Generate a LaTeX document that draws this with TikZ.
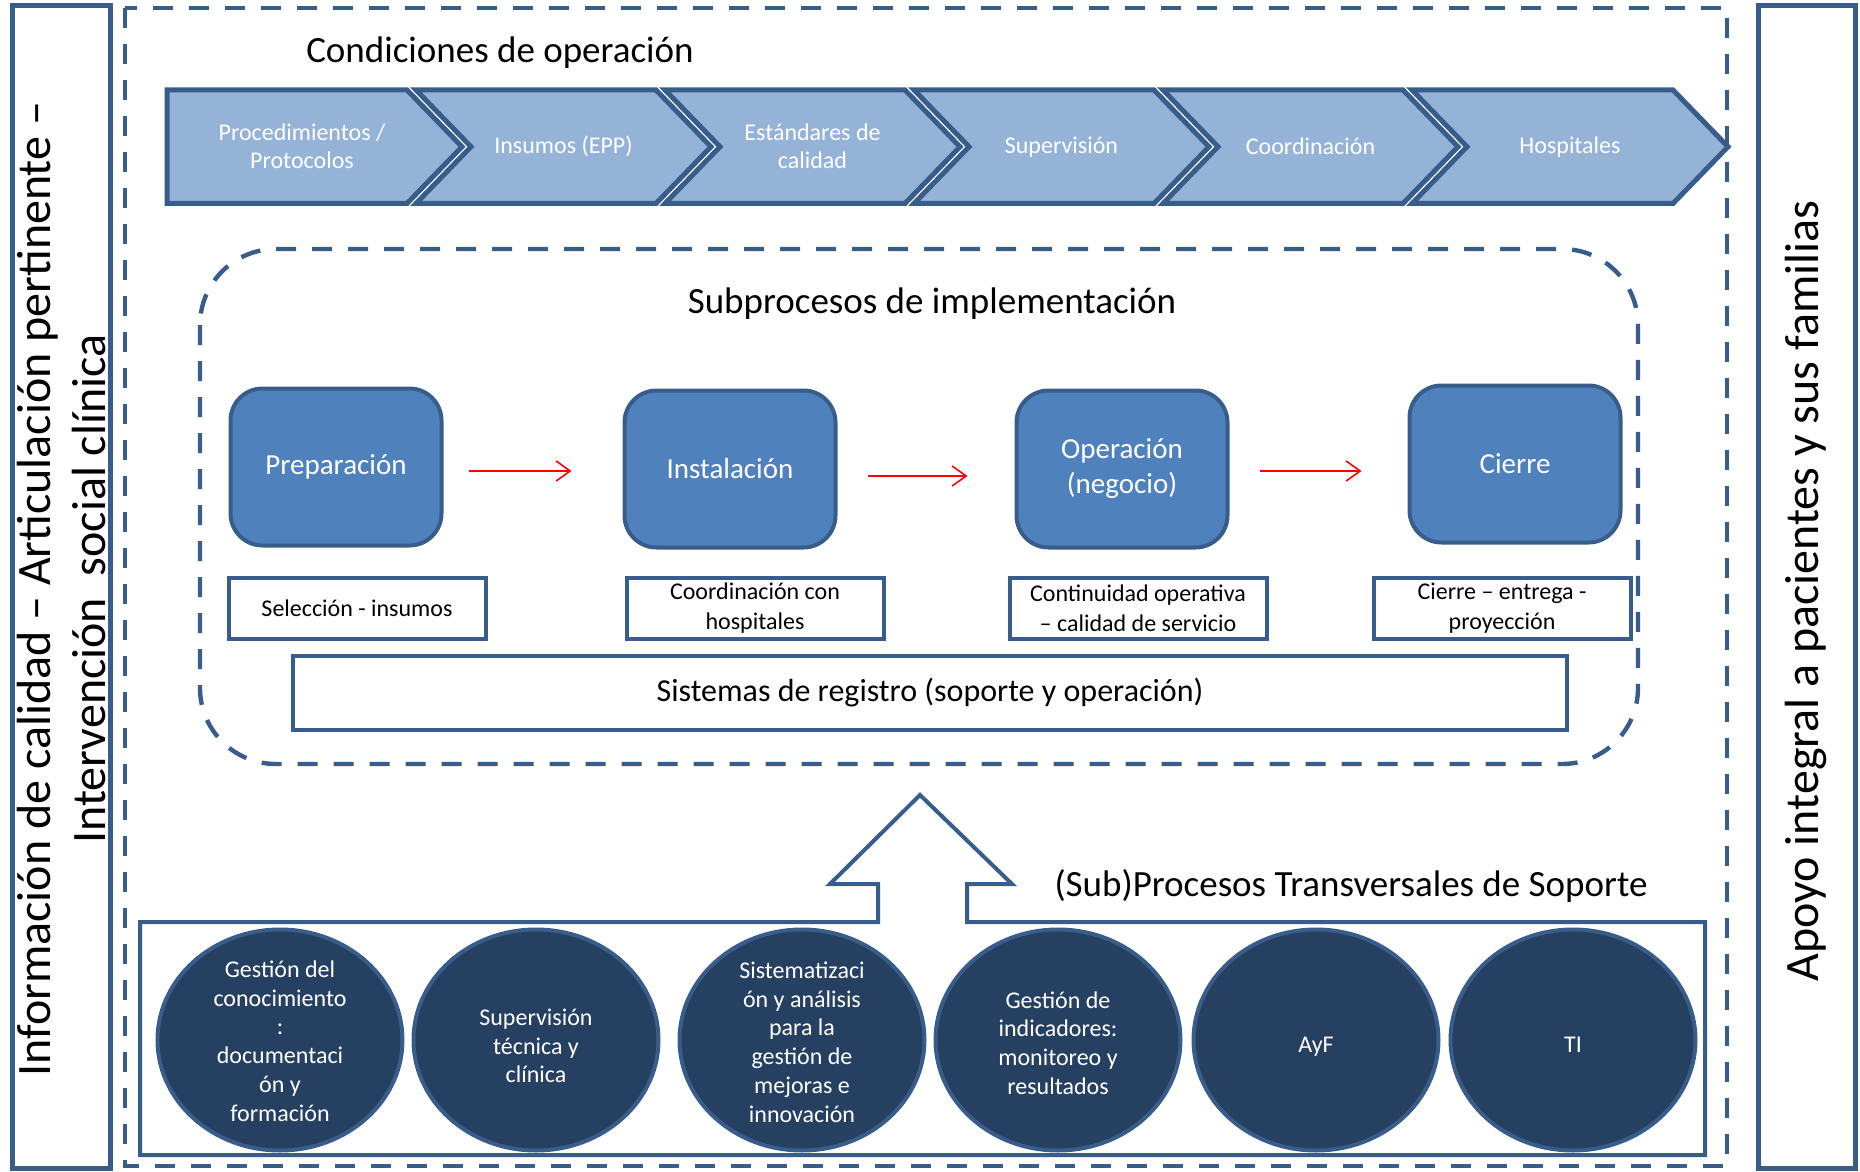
\documentclass[tikz,border=0pt]{standalone}
\usepackage{fontspec}
\setmainfont{Carlito}
\usepackage{tikz}
\usetikzlibrary{positioning, shapes.geometric, arrows.meta}

\definecolor{azulborde}{HTML}{385D8A}
\definecolor{azulclaro}{HTML}{95B3D7}
\definecolor{azulcaja}{HTML}{4F81BD}
\definecolor{azuloscuro}{HTML}{264061}

\tikzset{
  marco/.style={draw=azulborde, line width=2.5pt},
  guion/.style={draw=azulborde, line width=2.2pt, dash pattern=on 10pt off 8pt},
  chev/.style={fill=azulclaro, draw=azulborde, line width=2.5pt},
  chevtexto/.style={text=white, align=center, font=\fontsize{12}{14}\selectfont},
  titulo/.style={font=\fontsize{18.5}{22}\selectfont},
  lado/.style={rotate=90, align=center, font=\fontsize{24}{27.5}\selectfont},
  etapa/.style={fill=azulcaja, draw=azulborde, line width=2pt, rounded corners=16pt,
    minimum width=105.5pt, minimum height=78.5pt, text=white, align=center,
    font=\fontsize{14.5}{17.5}\selectfont},
  nota/.style={fill=white, draw=azulborde, line width=2pt, minimum width=128.5pt,
    minimum height=30.5pt, inner sep=1pt, align=center, font=\fontsize{12}{15}\selectfont},
  flecha/.style={red, line width=0.8pt, -{Straight Barb[length=7pt,width=10pt]}},
  soporte/.style={ellipse, fill=azuloscuro, draw=azulborde, line width=2pt,
    minimum width=122.5pt, minimum height=110.5pt, inner sep=0pt},
  soportetexto/.style={text=white, align=center, font=\fontsize{12}{14.4}\selectfont}
}

\begin{document}
\begin{tikzpicture}[x=0.5pt, y=-0.5pt]
    \useasboundingbox (0,0) rectangle (1860,1172);

    % marcos laterales y marco punteado
    \draw [marco] (12,6) rectangle (110,1168);
    \draw [marco] (1758,6) rectangle (1855,1168);
    \draw [guion] (125,8) rectangle (1727,1166);

    \node [lado] (informacion) at (62,589) {Información de calidad – Articulación pertinente –\\Intervención\ \ social clínica};
    \node [lado] (apoyo) at (1806,591) {Apoyo integral a pacientes y sus familias};

    % condiciones de operacion
    \node [titulo] (condiciones) at (500,53) {Condiciones de operación};

    \draw [chev] (167,90) -- ++(240,0) -- ++(55,56.75) -- ++(-55,56.75) -- ++(-240,0) -- cycle;
    \node [chevtexto] (procedimientos) at (302,146.75) {Procedimientos /\\Protocolos};
    \foreach \xo/\w/\nm/\txt in {416/240/insumos/{Insumos (EPP)}, 665/240/estandares/{Estándares de\\calidad},
        914/240/supervision/{Supervisión}, 1163/240/coordinacion/{Coordinación}, 1412/261/hospitales/{Hospitales}} {
      \draw [chev] (\xo,90) -- ++(\w,0) -- ++(55,56.75) -- ++(-55,56.75) -- ++(-\w,0) -- ++(55,-56.75) -- cycle;
      \node [chevtexto] (\nm) at (\xo+\w/2+27.5,146.75) {\txt};
    }

    % subprocesos de implementacion
    \draw [guion, rounded corners=38pt] (200,249) rectangle (1638,764);
    \node [titulo] (subprocesos) at (932,304) {Subprocesos de implementación};

    \node [etapa] (preparacion) at (336,467) {Preparación};
    \node [etapa] (instalacion) at (730,469) {Instalación};
    \node [etapa] (operacion) at (1122,469) {Operación\\(negocio)};
    \node [etapa] (cierre) at (1515,464) {Cierre};

    \draw [flecha] ([shift={(12.5pt,-2pt)}]preparacion.east) -- ([shift={(-25.5pt,-1pt)}]instalacion.west);
    \draw [flecha] ([shift={(15pt,-3.5pt)}]instalacion.east) -- ([shift={(-23.5pt,-3.5pt)}]operacion.west);
    \draw [flecha] ([shift={(15pt,-1pt)}]operacion.east) -- ([shift={(-23pt,-3.5pt)}]cierre.west);

    \node [nota] (seleccion) at (357,608) {Selección - insumos};
    \node [nota] (hospitales2) at (755,608) {Coordinación con\\hospitales};
    \node [nota] (continuidad) at (1138,608) {Continuidad operativa\\– calidad de servicio};
    \node [nota] (entrega) at (1502,608) {Cierre – entrega -\\proyección};

    \node [nota, minimum width=637pt, minimum height=37pt, font=\fontsize{16}{19}\selectfont] (registro) at (930,693) {Sistemas de registro (soporte y operación)};

    % procesos transversales de soporte (caja con flecha hacia arriba)
    \draw [azulborde, line width=2pt] (140,922) -- (878,922) -- (878,884) -- (830,884) -- (920,795)
      -- (1012,884) -- (967,884) -- (967,922) -- (1705,922) -- (1705,1155) -- (140,1155) -- cycle;
    \node [titulo] (transversales) at (1351,886) {(Sub)Procesos Transversales de Soporte};

    \foreach \cx/\ty/\nm/\txt in {280/1041/gestion/{Gestión del\\conocimiento\\:\\documentaci\\ón y\\formación},
        536/1046/tecnica/{Supervisión\\técnica y\\clínica},
        802/1042/sistematizacion/{Sistematizaci\\ón y análisis\\para la\\gestión de\\mejoras e\\innovación},
        1058/1043/indicadores/{Gestión de\\indicadores:\\monitoreo y\\resultados},
        1316/1047/ayf/{AyF}, 1573/1045/ti/{TI}} {
      \node [soporte] (\nm) at (\cx,1040) {};
      \node [soportetexto] (t\nm) at (\cx,\ty) {\txt};
    }

\end{tikzpicture}
\end{document}
